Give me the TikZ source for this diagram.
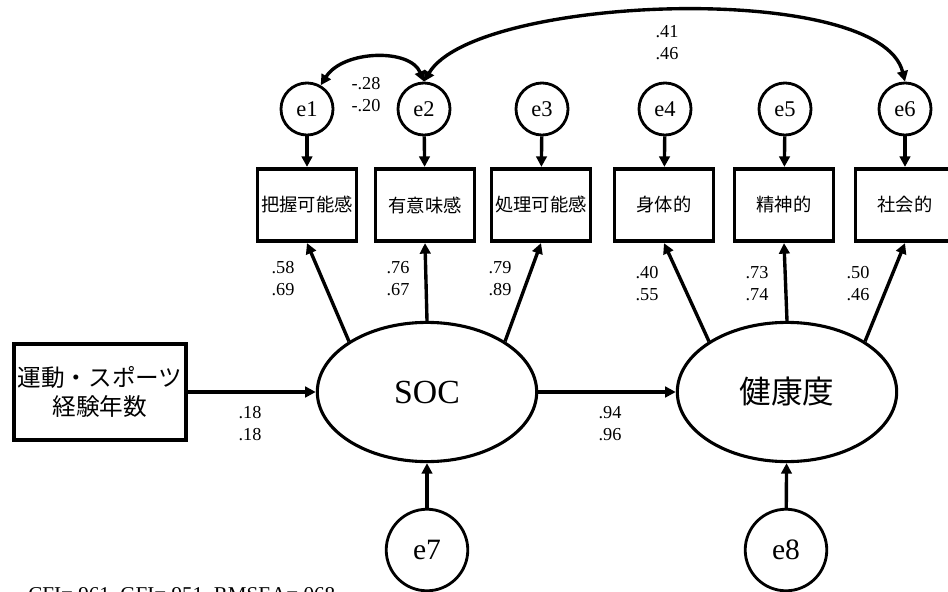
\documentclass[tikz,border=0pt]{standalone}
\usepackage{fontspec}
\setmainfont{Liberation Serif}
\newfontfamily\jpfont{Noto Sans CJK JP}
\usetikzlibrary{arrows.meta,shapes.geometric}

\begin{document}
\begin{tikzpicture}[x=0.025cm,y=-0.025cm,
    >={Triangle[length=7.5pt,width=7.5pt]},
    err/.style={circle,draw,line width=2pt,minimum size=37pt,inner sep=0pt,
      font=\fontsize{16}{18}\selectfont},
    bigerr/.style={err,minimum size=58pt,font=\fontsize{21}{24}\selectfont},
    obs/.style={rectangle,draw,line width=2.7pt,minimum width=70.5pt,
      minimum height=51.5pt,inner sep=0pt,font=\jpfont\fontsize{13}{15}\selectfont},
    lat/.style={ellipse,draw,line width=2.2pt,minimum width=156pt,
      minimum height=99pt,inner sep=0pt},
    coef/.style={align=center,inner sep=0pt,font=\fontsize{13}{15.6}\selectfont},
    arr/.style={->,line width=2.4pt}]
  \useasboundingbox (0,0) rectangle (948,592);
  % latent variables and the predictor
  \node[lat,font=\fontsize{24}{28}\selectfont] (soc) at (427,392) {SOC};
  \node[lat,font=\jpfont\fontsize{22.5}{26}\selectfont] (health) at (787,392) {健康度};
  \node[rectangle,draw,line width=2.7pt,minimum width=122pt,minimum height=68pt,
    inner sep=0pt,align=center,font=\jpfont\fontsize{16.8}{21}\selectfont]
    (years) at (100,392) {運動・スポーツ\\経験年数};
  % indicators
  \node[obs] (m1) at (307,205) {把握可能感};
  \node[obs] (m2) at (425,205) {有意味感};
  \node[obs] (m3) at (541,205) {処理可能感};
  \node[obs] (m4) at (664,205) {身体的};
  \node[obs] (m5) at (784,205) {精神的};
  \node[obs] (m6) at (905,205) {社会的};
  % error terms
  \foreach \i/\x in {1/307,2/424,3/542,4/665,5/785,6/905}
    {\node[err] (e\i) at (\x,109) {e\i};
     \draw[arr] (e\i) -- (m\i);}
  \node[bigerr] (e7) at (427,550) {e7};
  \node[bigerr] (e8) at (786,550) {e8};
  \draw[arr] (e7) -- (soc);
  \draw[arr] (e8) -- (health);
  % paths
  \draw[arr] (years) -- (soc);
  \draw[arr] (soc) -- (health);
  \draw[arr] (soc.147) -- (m1.south);
  \draw[arr] (soc.north) -- (m2.south);
  \draw[arr] (soc.33) -- (m3.south);
  \draw[arr] (health.147) -- (m4.south);
  \draw[arr] (health.north) -- (m5.south);
  \draw[arr] (health.33) -- (m6.south);
  % covariances
  \draw[arr,<->] (e1.60) .. controls (343,50) and (410,48) .. (e2.north);
  \draw[arr,<->] (e2.north) .. controls (475,-5) and (880,-20) .. (e6.north);
  % estimates
  \node[coef] (c1) at (283,279) {.58\\.69};
  \node[coef] (c2) at (398,279) {.76\\.67};
  \node[coef] (c3) at (500,279) {.79\\.89};
  \node[coef] (c4) at (647,284) {.40\\.55};
  \node[coef] (c5) at (757,284) {.73\\.74};
  \node[coef] (c6) at (858,284) {.50\\.46};
  \node[coef] (cy) at (250,424) {.18\\.18};
  \node[coef] (cs) at (610,424) {.94\\.96};
  \node[coef] (r12) at (366,95) {-.28\\-.20};
  \node[coef] (r26) at (667,43) {.41\\.46};
  \node[anchor=base west,inner sep=0pt,font=\fontsize{15}{18}\selectfont]
    (fit) at (28,601) {CFI=.961, GFI=.951, RMSEA=.068};
\end{tikzpicture}
\end{document}
